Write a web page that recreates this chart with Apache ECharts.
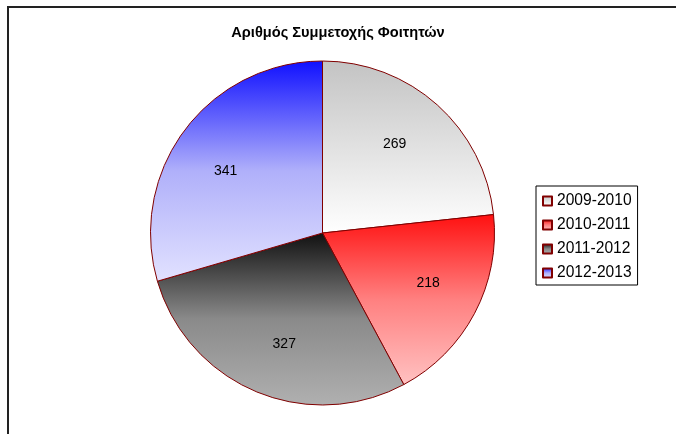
<!DOCTYPE html>
<html>
<head>
<meta charset="utf-8">
<script src="https://cdn.jsdelivr.net/npm/echarts@6/dist/echarts.min.js"></script>
<style>
    html, body {margin: 0; padding: 0; background: #fff;}
    #chart {width: 676px; height: 434px;}
</style>
</head>
<body>
<div id="chart"></div>
<script>
var years = ['2009-2010', '2010-2011', '2011-2012', '2012-2013'];
var students = [269, 218, 327, 341];
// gradient top / middle / bottom colour for each slice
var topColors = ['#c3c3c3', '#ff1010', '#101010', '#1010ff'];
var midColors = ['#e1e1e1', '#ff8080', '#8a8a8a', '#b0b0fa'];
var bottomColors = ['#ffffff', '#ffc2c2', '#b0b0b0', '#e2e2ff'];

function grad(i) {
    return new echarts.graphic.LinearGradient(0, 0, 0, 1, [
        {offset: 0, color: topColors[i]},
        {offset: 0.5, color: midColors[i]},
        {offset: 1, color: bottomColors[i]}
    ]);
}

var pieData = [];
var labelData = [];
for (var i = 0; i < years.length; i++) {
    pieData.push({name: years[i], value: students[i], itemStyle: {color: grad(i)}});
    labelData.push({name: years[i], value: students[i]});
}

var myChart = echarts.init(document.getElementById('chart'));
var option = {
    animation: false,
    backgroundColor: '#fff',
    title: {
        text: 'Αριθμός Συμμετοχής Φοιτητών',
        left: 'center',
        top: 20,
        textStyle: {
            fontFamily: 'Liberation Sans, Arial',
            fontSize: 14.6,
            fontWeight: 'bold',
            color: '#000'
        }
    },
    legend: {
        orient: 'vertical',
        left: 536,
        top: 186,
        padding: [7, 6, 4, 6],
        borderColor: '#000',
        borderWidth: 1,
        itemWidth: 9,
        itemHeight: 9,
        itemGap: 8,
        icon: 'rect',
        data: years,
        textStyle: {
            fontFamily: 'Liberation Sans, Arial',
            fontSize: 15.6,
            lineHeight: 16,
            color: '#000'
        }
    },
    graphic: [{
        type: 'rect',
        shape: {x: 8, y: 7, width: 720, height: 500},
        style: {fill: 'none', stroke: '#222', lineWidth: 2},
        silent: true
    }],
    series: [{
        name: 'Φοιτητές',
        type: 'pie',
        center: [322.5, 233],
        radius: [0, 172],
        startAngle: 90,
        clockwise: true,
        label: {show: false},
        labelLine: {show: false},
        itemStyle: {borderColor: '#800000', borderWidth: 1},
        emphasis: {disabled: true},
        data: pieData
    }, {
        // transparent ring used only to place the value labels
        name: 'labels',
        type: 'pie',
        center: [322.5, 235],
        radius: [54, 172],
        startAngle: 93.5,
        clockwise: true,
        silent: true,
        legendHoverLink: false,
        itemStyle: {color: 'rgba(0,0,0,0)', borderWidth: 0},
        label: {
            show: true,
            position: 'inside',
            formatter: '{c}',
            fontFamily: 'Liberation Sans, Arial',
            fontSize: 14,
            color: '#000'
        },
        labelLine: {show: false},
        emphasis: {disabled: true},
        data: labelData
    }]
};
myChart.setOption(option);
</script>
</body>
</html>
